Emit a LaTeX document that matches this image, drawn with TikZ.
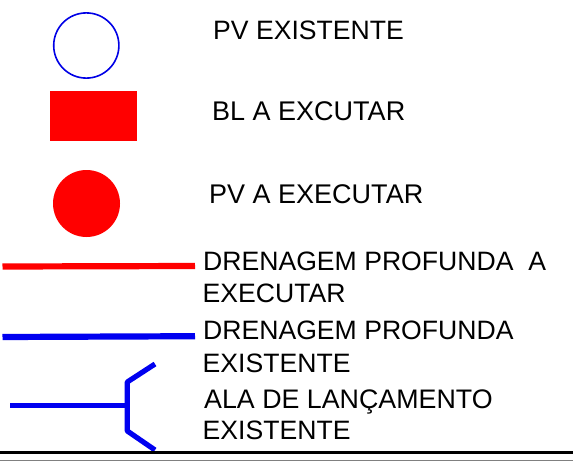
\documentclass[tikz,border=0pt]{standalone}
\usepackage{fontspec}
\setmainfont{Liberation Sans}
\definecolor{pvblue}{RGB}{0,0,230}
\definecolor{dblue}{RGB}{0,0,240}
\begin{document}
\begin{tikzpicture}[x=1pt,y=-1pt,
  lbl/.style={anchor=base west,inner sep=0pt,font=\fontsize{26.6}{26.6}\selectfont,text=black},
  lblb/.style={lbl,font=\fontsize{27}{27}\selectfont},
  redfill/.style={fill=red,draw=none},
  redline/.style={draw=red,line width=6.2pt},
  blueline/.style={draw=dblue,line width=6.2pt},
  alaline/.style={draw=dblue,line width=5.2pt}]
\useasboundingbox (0,0) rectangle (573,461);
\node[circle,draw=pvblue,line width=1.6pt,fill=white,minimum size=65.2pt,inner sep=0pt] (pv) at (86.3,45.5) {};
\node[redfill,minimum width=87pt,minimum height=50pt,inner sep=0pt] (bl) at (93.5,115.5) {};
\node[circle,redfill,minimum size=67pt,inner sep=0pt] (pvr) at (86.5,203.5) {};
\coordinate (ra) at (2.5,266.5); \coordinate (rb) at (195,266);
\draw[redline] (ra) -- (rb);
\coordinate (ba) at (2.5,337); \coordinate (bb) at (195,336.2);
\draw[blueline] (ba) -- (bb);
\coordinate (s) at (10,405.7); \coordinate (j) at (127,405.7);
\coordinate (u) at (127.3,382); \coordinate (v) at (155,364);
\coordinate (d) at (127.3,431); \coordinate (w) at (155,450);
\draw[alaline] (s) -- (j);
\draw[alaline,line join=round] (v) -- (u) -- (d) -- (w);
\node[lbl] (t1) at (213,39) {PV EXISTENTE};
\node[lblb] (t2) at (212,120.5) {BL A EXCUTAR};
\node[lblb] (t3) at (209,203.5) {PV A EXECUTAR};
\node[lbl] (t4) at (203,270) {DRENAGEM PROFUNDA\ \ A};
\node[lbl] (t5) at (202.5,302) {EXECUTAR};
\node[lbl] (t6) at (203,339.5) {DRENAGEM PROFUNDA};
\node[lbl] (t7) at (202.5,372) {EXISTENTE};
\node[lblb,font=\fontsize{26.8}{26.8}\selectfont] (t8) at (204,408) {ALA DE LANÇAMENTO};
\node[lbl] (t9) at (202.5,439.5) {EXISTENTE};
\coordinate (la) at (0,452.3); \coordinate (lb) at (573,452.3);
\draw[black,line width=3.2pt] (la) -- (lb);
\coordinate (ga) at (0,460.3); \coordinate (gb) at (573,460.3);
\draw[black!50,line width=1.2pt] (ga) -- (gb);
\end{tikzpicture}
\end{document}
